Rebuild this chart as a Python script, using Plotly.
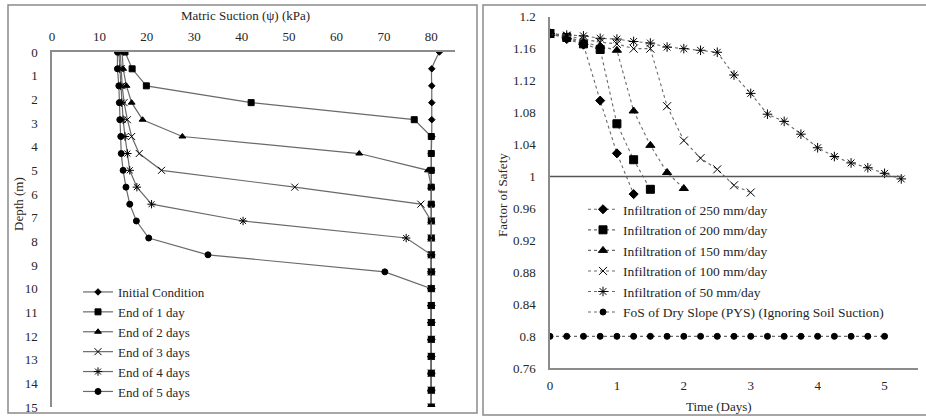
import plotly.graph_objects as go

# ---------------- Left panel data: matric suction profiles ----------------
depth_m = [0, 0.71, 1.43, 2.14, 2.86, 3.57, 4.29, 5.0, 5.71, 6.43, 7.14,
           7.86, 8.57, 9.29, 10.0, 10.71, 11.43, 12.14, 12.86, 13.57, 14.29, 15.0]
suction_initial = [81.7, 80.1, 80.1, 80.1, 80.1, 80.1, 80.0, 80.0, 80.0, 80.0, 80.0,
                   80.0, 80.0, 80.0, 80.0, 80.0, 80.0, 80.0, 80.0, 80.0, 80.0, 80.0]
suction_day1 = [15.4, 16.9, 19.9, 42.0, 76.4, 80.0, 80.0, 80.0, 80.0, 80.0, 80.0,
                80.0, 80.0, 80.0, 80.0, 80.0, 80.0, 80.0, 80.0, 80.0, 80.0, 80.0]
suction_day2 = [14.8, 15.0, 15.7, 16.8, 19.1, 27.5, 64.8, 79.3, 80.0, 80.0, 80.0,
                80.0, 80.0, 80.0, 80.0, 80.0, 80.0, 80.0, 80.0, 80.0, 80.0, 80.0]
suction_day3 = [14.4, 14.6, 14.8, 15.2, 15.9, 16.8, 18.4, 23.1, 51.2, 77.8, 80.0,
                80.0, 80.0, 80.0, 80.0, 80.0, 80.0, 80.0, 80.0, 80.0, 80.0, 80.0]
suction_day4 = [14.1, 14.3, 14.5, 14.7, 15.0, 15.4, 15.9, 16.4, 17.9, 21.0, 40.3,
                74.7, 80.0, 80.0, 80.0, 80.0, 80.0, 80.0, 80.0, 80.0, 80.0, 80.0]
suction_day5 = [13.8, 13.8, 14.1, 14.2, 14.3, 14.5, 14.6, 15.0, 15.6, 16.4, 17.8,
                20.4, 32.9, 70.2, 80.0, 80.0, 80.0, 80.0, 80.0, 80.0, 80.0, 80.0]

left_names = ["Initial Condition", "End of 1 day", "End of 2 days",
              "End of 3 days", "End of 4 days", "End of 5 days"]
suction_x_ticks = [0, 10, 20, 30, 40, 50, 60, 70, 80]
depth_ticks = [0, 1, 2, 3, 4, 5, 6, 7, 8, 9, 10, 11, 12, 13, 14, 15]

# ---------------- Right panel data: factor of safety ----------------
t_250 = [0, 0.25, 0.5, 0.75, 1.0, 1.25]
fos_250 = [1.179, 1.172, 1.165, 1.095, 1.029, 0.978]
t_200 = [0, 0.25, 0.5, 0.75, 1.0, 1.25, 1.5]
fos_200 = [1.179, 1.174, 1.166, 1.159, 1.066, 1.021, 0.984]
t_150 = [0, 0.25, 0.5, 0.75, 1.0, 1.25, 1.5, 1.75, 2.0]
fos_150 = [1.179, 1.175, 1.168, 1.163, 1.158, 1.082, 1.039, 1.005, 0.985]
t_100 = [0, 0.25, 0.5, 0.75, 1.0, 1.25, 1.5, 1.75, 2.0, 2.25, 2.5, 2.75, 3.0]
fos_100 = [1.179, 1.176, 1.172, 1.168, 1.166, 1.160, 1.160, 1.088, 1.045, 1.023,
           1.009, 0.989, 0.980]
t_50 = [0, 0.25, 0.5, 0.75, 1.0, 1.25, 1.5, 1.75, 2.0, 2.25, 2.5, 2.75, 3.0,
        3.25, 3.5, 3.75, 4.0, 4.25, 4.5, 4.75, 5.0, 5.25]
fos_50 = [1.179, 1.177, 1.176, 1.173, 1.172, 1.169, 1.167, 1.162, 1.160, 1.158,
          1.1555, 1.127, 1.104, 1.078, 1.069, 1.053, 1.036, 1.025, 1.017, 1.011,
          1.004, 0.997]
t_dry = [0, 0.25, 0.5, 0.75, 1.0, 1.25, 1.5, 1.75, 2.0, 2.25, 2.5, 2.75, 3.0,
         3.25, 3.5, 3.75, 4.0, 4.25, 4.5, 4.75, 5.0]
fos_dry = [0.8, 0.8, 0.8, 0.8, 0.8, 0.8, 0.8, 0.8, 0.8, 0.8, 0.8, 0.8, 0.8,
           0.8, 0.8, 0.8, 0.8, 0.8, 0.8, 0.8, 0.8]
threshold_t = [0, 5.27]
threshold_fos = [1.0, 1.0]

right_names = ["Infiltration of 250 mm/day", "Infiltration of 200 mm/day",
               "Infiltration of 150 mm/day", "Infiltration of 100 mm/day",
               "Infiltration of 50 mm/day",
               "FoS of Dry Slope (PYS) (Ignoring Soil Suction)"]
fos_ticks = [1.2, 1.16, 1.12, 1.08, 1.04, 1.0, 0.96, 0.92, 0.88, 0.84, 0.8, 0.76]
fos_tick_text = ["1.2", "1.16", "1.12", "1.08", "1.04", "1", "0.96", "0.92",
                 "0.88", "0.84", "0.8", "0.76"]
time_ticks = [0, 1, 2, 3, 4, 5]

# ---------------- Styling ----------------
W, H = 926, 416
FONT = "Liberation Serif"
TXT = "#262626"
AXC = "#8c8c8c"
LINEC = "#6a6a6a"

def px(x):
    return x / W

def py(y):
    return 1 - y / H

fig = go.Figure()

left_series = [suction_initial, suction_day1, suction_day2, suction_day3,
               suction_day4, suction_day5]
left_symbols = ["diamond", "square", "triangle-up", "x-thin-open",
                "asterisk-open", "circle"]
left_sizes = [5, 6, 6, 7, 7, 6]
for i, (vals, name) in enumerate(zip(left_series, left_names)):
    fig.add_trace(go.Scatter(
        x=vals, y=depth_m, name=name, mode="lines+markers",
        xaxis="x", yaxis="y", legend="legend",
        line=dict(color=LINEC, width=1.2, shape="spline" if i == 0 else "linear",
                  smoothing=0.6),
        marker=dict(symbol=left_symbols[i], size=left_sizes[i], color="black",
                    line=dict(color="black", width=1)),
    ))

right_t = [t_250, t_200, t_150, t_100, t_50, t_dry]
right_v = [fos_250, fos_200, fos_150, fos_100, fos_50, fos_dry]
right_symbols = ["diamond", "square", "triangle-up", "x-thin-open",
                 "asterisk-open", "circle"]
right_sizes = [7, 8, 8, 8, 8, 6]
for i in range(6):
    fig.add_trace(go.Scatter(
        x=right_t[i], y=right_v[i], name=right_names[i], mode="lines+markers",
        xaxis="x2", yaxis="y2", legend="legend2",
        line=dict(color=LINEC, width=1.1, dash="dot"),
        marker=dict(symbol=right_symbols[i], size=right_sizes[i], color="black",
                    line=dict(color="black", width=1)),
    ))

fig.add_trace(go.Scatter(
    x=threshold_t, y=threshold_fos, mode="lines", xaxis="x2", yaxis="y2",
    showlegend=False, hoverinfo="skip",
    line=dict(color="#555555", width=1.3),
))

axis_common = dict(showgrid=False, zeroline=False, showline=True, linecolor=AXC,
                   linewidth=1.5, ticks="outside", tickcolor="rgba(0,0,0,0)",
                   automargin=False,
                   tickfont=dict(family=FONT, size=13, color=TXT))

fig.update_layout(
    width=W, height=H, autosize=False,
    margin=dict(l=0, r=0, t=0, b=0, pad=0, autoexpand=False),
    paper_bgcolor="white", plot_bgcolor="white",
    font=dict(family=FONT, size=13, color=TXT),
    xaxis=dict(domain=[px(52), px(455)], range=[0, 85], side="top",
               tickvals=suction_x_ticks, ticklen=4, anchor="y", **axis_common),
    yaxis=dict(domain=[py(407), py(52)], range=[15, 0], tickvals=depth_ticks,
               ticklen=10, anchor="x", **axis_common),
    xaxis2=dict(domain=[px(550), px(918)], range=[0, 5.5], tickvals=time_ticks,
                ticklen=4, anchor="y2", **axis_common),
    yaxis2=dict(domain=[py(368.3), py(16.7)], range=[0.76, 1.2],
                tickvals=fos_ticks, ticktext=fos_tick_text, ticklen=10,
                anchor="x2", **axis_common),
    legend=dict(x=px(78), y=py(277), xanchor="left", yanchor="top",
                bgcolor="rgba(0,0,0,0)", font=dict(family=FONT, size=13, color=TXT),
                tracegroupgap=0),
    legend2=dict(x=px(583), y=py(194), xanchor="left", yanchor="top",
                 bgcolor="rgba(0,0,0,0)", font=dict(family=FONT, size=13.5, color=TXT),
                 tracegroupgap=0),
    shapes=[
        dict(type="rect", xref="paper", yref="paper", x0=px(8), x1=px(477),
             y0=py(413), y1=py(5), line=dict(color="#8a8a8a", width=1.5)),
        dict(type="rect", xref="paper", yref="paper", x0=px(483), x1=px(940),
             y0=py(415), y1=py(5), line=dict(color="#8a8a8a", width=1.5)),
    ],
    annotations=[
        dict(text="Matric Suction (ψ) (kPa)", xref="paper", yref="paper",
             x=px(245), y=py(16), showarrow=False, xanchor="center", yanchor="middle",
             font=dict(family=FONT, size=13, color=TXT)),
        dict(text="Depth (m)", xref="paper", yref="paper", textangle=-90,
             x=px(18), y=py(204), showarrow=False, xanchor="center", yanchor="middle",
             font=dict(family=FONT, size=13, color=TXT)),
        dict(text="Factor of Safety", xref="paper", yref="paper", textangle=-90,
             x=px(502), y=py(195), showarrow=False, xanchor="center", yanchor="middle",
             font=dict(family=FONT, size=13, color=TXT)),
        dict(text="Time (Days)", xref="paper", yref="paper",
             x=px(719), y=py(406), showarrow=False, xanchor="center", yanchor="middle",
             font=dict(family=FONT, size=13, color=TXT)),
    ],
)

fig.write_html("out.html", config={"displayModeBar": False},
               post_script="document.body.style.margin='0px';")
